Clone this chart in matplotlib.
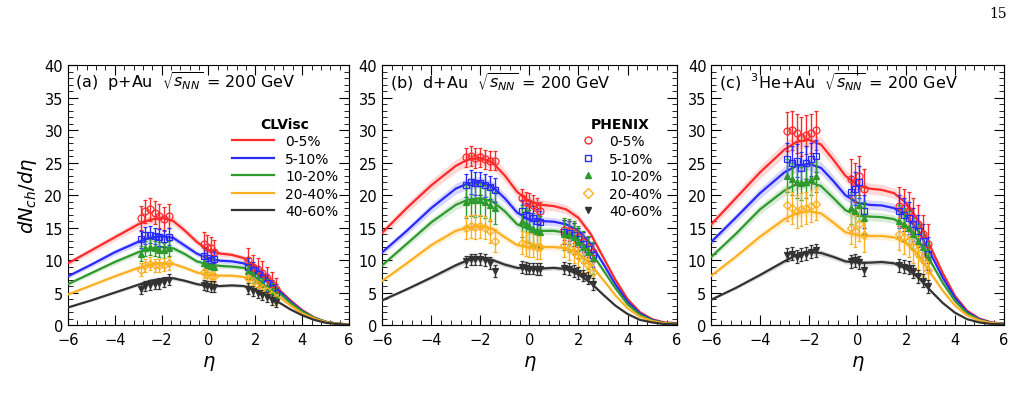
import numpy as np
import matplotlib
matplotlib.use("Agg")
import matplotlib.pyplot as plt
from matplotlib.ticker import MultipleLocator
from matplotlib.lines import Line2D

labels = ["0-5%", "5-10%", "10-20%", "20-40%", "40-60%"]
colors = ["#ff2a2a", "#2a2aff", "#2e9a2e", "#ffb020", "#333333"]
markers = ["o", "s", "^", "D", "v"]
mfill = [False, False, True, False, True]

eta_nodes = [-6, -5, -4, -3, -2.5, -2, -1.5, -1, -0.5, 0, 0.5, 1, 1.5, 2, 2.5, 3, 3.5, 4, 4.5, 5, 5.5, 6]

curves_a = [
    [9.5, 11.5, 13.5, 15.5, 16.2, 16.5, 16.0, 14.5, 12.8, 11.5, 11.0, 10.8, 10.3, 9.0, 7.5, 5.5, 3.8, 2.3, 1.2, 0.5, 0.2, 0.1],
    [7.5, 9.3, 11.2, 12.8, 13.4, 13.7, 13.4, 12.2, 11.0, 10.2, 9.9, 9.8, 9.5, 8.5, 7.1, 5.3, 3.6, 2.2, 1.1, 0.5, 0.2, 0.1],
    [6.3, 8.0, 9.7, 11.2, 11.8, 12.0, 11.8, 10.9, 9.8, 9.3, 9.1, 9.0, 8.8, 8.0, 6.7, 5.0, 3.4, 2.1, 1.1, 0.5, 0.2, 0.1],
    [4.7, 6.1, 7.5, 8.8, 9.3, 9.5, 9.4, 8.8, 8.1, 7.7, 7.6, 7.6, 7.4, 6.8, 5.8, 4.4, 3.0, 1.8, 1.0, 0.45, 0.2, 0.1],
    [2.7, 3.8, 5.0, 6.2, 6.8, 7.1, 7.2, 6.8, 6.3, 6.0, 6.0, 6.1, 6.0, 5.5, 4.6, 3.5, 2.4, 1.5, 0.8, 0.35, 0.15, 0.05],
]
curves_b = [
    [14.2, 18, 21.5, 24.5, 25.5, 25.7, 25.0, 23.0, 20.5, 19.0, 18.5, 18.3, 17.8, 16.5, 14.0, 10.5, 7.0, 4.0, 2.0, 0.9, 0.4, 0.3],
    [11.2, 14.5, 18.0, 21.0, 21.8, 22.0, 21.3, 19.5, 17.3, 16.2, 16.0, 15.9, 15.5, 14.5, 12.5, 9.5, 6.3, 3.6, 1.8, 0.8, 0.3, 0.2],
    [9.2, 12.5, 15.8, 18.5, 19.3, 19.5, 19.0, 17.5, 15.5, 14.7, 14.5, 14.5, 14.2, 13.2, 11.3, 8.5, 5.7, 3.2, 1.6, 0.7, 0.3, 0.2],
    [6.8, 9.5, 12.3, 14.5, 15.0, 15.2, 14.8, 13.5, 12.3, 12.0, 12.0, 12.0, 11.8, 11.0, 9.3, 7.0, 4.6, 2.6, 1.3, 0.6, 0.25, 0.15],
    [3.8, 5.5, 7.3, 9.2, 10.0, 10.2, 10.0, 9.3, 8.8, 8.7, 8.7, 8.8, 8.6, 7.8, 6.5, 4.7, 3.0, 1.7, 0.8, 0.4, 0.15, 0.1],
]
curves_c = [
    [15.5, 19.5, 23.5, 27.0, 28.2, 28.5, 27.8, 25.5, 23.0, 21.5, 21.0, 20.8, 20.3, 18.8, 16.0, 12.0, 8.0, 4.5, 2.2, 1.0, 0.4, 0.2],
    [12.8, 16.5, 20.3, 23.5, 24.5, 24.8, 24.2, 22.2, 20.0, 18.8, 18.5, 18.4, 18.0, 16.8, 14.5, 11.0, 7.3, 4.2, 2.0, 0.9, 0.35, 0.2],
    [10.5, 14.0, 17.8, 20.7, 21.7, 22.0, 21.4, 19.6, 17.7, 16.8, 16.7, 16.6, 16.3, 15.2, 13.0, 9.8, 6.5, 3.7, 1.8, 0.8, 0.3, 0.2],
    [7.6, 10.5, 13.6, 16.3, 17.2, 17.5, 17.2, 15.8, 14.3, 13.8, 13.7, 13.7, 13.5, 12.6, 10.8, 8.0, 5.3, 3.0, 1.5, 0.7, 0.3, 0.15],
    [3.9, 5.7, 7.7, 9.8, 10.8, 11.2, 11.1, 10.5, 9.8, 9.6, 9.6, 9.7, 9.5, 8.7, 7.3, 5.3, 3.4, 1.9, 0.9, 0.4, 0.15, 0.1],
]

eta_a = [-2.9, -2.7, -2.5, -2.3, -2.1, -1.9, -1.7, -0.2, -0.05, 0.1, 0.25, 1.7, 1.9, 2.1, 2.3, 2.5, 2.7, 2.9]
data_a = [
    [16.5, 17.5, 17.8, 17.3, 16.8, 16.3, 16.8, 12.5, 12.0, 11.8, 11.3, 10.0, 9.0, 8.5, 8.0, 7.2, 6.3, 5.5],
    [13.2, 13.8, 13.9, 13.7, 13.5, 13.3, 13.6, 10.6, 10.3, 10.0, 10.2, 9.0, 8.4, 7.8, 7.2, 6.5, 5.7, 5.0],
    [11.0, 11.8, 12.0, 11.8, 11.6, 11.5, 11.8, 9.6, 9.3, 9.1, 9.0, 8.3, 7.7, 7.1, 6.5, 5.9, 5.2, 4.6],
    [8.5, 9.2, 9.4, 9.2, 9.2, 9.3, 9.5, 8.2, 7.8, 7.6, 7.6, 7.2, 6.7, 6.2, 5.7, 5.2, 4.6, 4.1],
    [5.5, 6.0, 6.2, 6.3, 6.4, 6.6, 7.0, 6.2, 6.0, 5.9, 5.9, 5.6, 5.2, 4.9, 4.6, 4.3, 3.9, 3.6],
]
err_a = [1.8, 1.3, 1.2, 1.0, 0.8]

eta_b = [-2.6, -2.4, -2.2, -2.0, -1.8, -1.6, -1.4, -0.3, -0.15, 0.0, 0.15, 0.3, 0.45, 1.4, 1.6, 1.8, 2.0, 2.2, 2.4, 2.6]
data_b = [
    [25.8, 26.0, 25.7, 25.8, 25.5, 25.3, 25.3, 19.5, 19.0, 18.8, 18.5, 18.0, 17.5, 14.6, 14.5, 14.2, 13.5, 12.8, 12.0, 11.2],
    [21.5, 22.0, 21.8, 21.8, 21.5, 21.2, 20.8, 17.5, 17.0, 16.8, 16.5, 16.0, 15.8, 14.3, 14.2, 13.9, 13.2, 12.5, 11.7, 10.8],
    [19.0, 19.3, 19.2, 19.3, 19.0, 18.5, 18.0, 16.0, 15.5, 15.2, 14.8, 14.5, 14.3, 14.0, 13.8, 13.5, 12.8, 12.0, 11.2, 10.3],
    [15.0, 15.2, 15.1, 15.2, 15.0, 14.5, 13.0, 12.7, 12.5, 12.3, 12.2, 12.0, 12.0, 12.3, 11.8, 11.3, 10.7, 10.0, 9.2, 8.2],
    [9.8, 10.1, 10.1, 10.2, 10.0, 9.5, 8.3, 8.9, 8.8, 8.7, 8.7, 8.6, 8.6, 8.8, 8.6, 8.3, 8.0, 7.6, 7.2, 6.3],
]
err_b = [1.5, 1.8, 2.5, 1.8, 0.9]

eta_c = [-2.9, -2.7, -2.5, -2.3, -2.1, -1.9, -1.7, -0.25, -0.1, 0.05, 0.25, 1.7, 1.9, 2.1, 2.3, 2.5, 2.7, 2.9]
data_c = [
    [29.8, 30.0, 29.5, 29.0, 29.3, 29.5, 30.0, 22.5, 22.0, 23.0, 21.0, 18.3, 18.0, 17.5, 16.5, 15.5, 14.0, 12.5],
    [25.5, 25.0, 25.3, 24.2, 25.0, 25.5, 26.0, 20.5, 21.0, 22.0, 17.5, 17.5, 17.0, 16.5, 15.5, 14.5, 13.0, 11.0],
    [23.0, 22.5, 22.0, 21.8, 22.0, 22.5, 23.0, 18.0, 17.5, 18.5, 16.5, 16.0, 15.5, 15.0, 14.0, 13.0, 12.0, 10.5],
    [18.5, 18.0, 17.5, 17.8, 18.0, 18.3, 18.7, 15.0, 14.5, 15.5, 13.8, 14.0, 13.5, 13.0, 12.0, 11.0, 10.0, 8.5],
    [10.8, 11.0, 10.5, 10.8, 11.0, 11.3, 11.5, 9.8, 10.0, 9.7, 8.5, 9.2, 9.0, 8.8, 8.3, 7.5, 6.8, 6.0],
]
err_c = [3.0, 2.5, 2.5, 2.5, 1.0]

titles = [r"(a)  p+Au  $\sqrt{s_{NN}}$ = 200 GeV",
          r"(b)  d+Au  $\sqrt{s_{NN}}$ = 200 GeV",
          r"(c)  $^{3}$He+Au  $\sqrt{s_{NN}}$ = 200 GeV"]

fig = plt.figure(figsize=(10.22, 4.06), dpi=100)
plt.rcParams['font.family'] = ['DejaVu Sans']
rects = [[0.0665, 0.197, 0.275, 0.640], [0.374, 0.197, 0.288, 0.640], [0.696, 0.197, 0.286, 0.640]]
panels = [(curves_a, eta_a, data_a, err_a), (curves_b, eta_b, data_b, err_b), (curves_c, eta_c, data_c, err_c)]

for p, (rect, (curves, eta, data, err)) in enumerate(zip(rects, panels)):
    ax = fig.add_axes(rect)
    for i in range(5):
        c = np.array(curves[i])
        ax.fill_between(eta_nodes, c * 0.96, c * 1.04, color=colors[i], alpha=0.18, lw=0)
        ax.plot(eta_nodes, c, color=colors[i], lw=1.6, zorder=3)
    for i in range(5):
        ax.errorbar(eta, data[i], yerr=err[i], fmt=markers[i], ms=5 if markers[i] != "D" else 4,
                    mfc=colors[i] if mfill[i] else "none", mec=colors[i], ecolor=colors[i],
                    elinewidth=1.0, capsize=1.5, mew=0.9, zorder=4)
    ax.set_xlim(-6, 6)
    ax.set_ylim(0, 40)
    ax.xaxis.set_major_locator(MultipleLocator(2))
    ax.xaxis.set_minor_locator(MultipleLocator(0.4))
    ax.yaxis.set_major_locator(MultipleLocator(5))
    ax.yaxis.set_minor_locator(MultipleLocator(1))
    ax.tick_params(which="both", direction="in", top=True, right=True, labelsize=10.5)
    ax.tick_params(which="major", length=7)
    ax.tick_params(which="minor", length=3.5)
    ax.tick_params(axis="x", pad=5)
    ax.set_xticks([-6, -4, -2, 0, 2, 4, 6])
    ax.set_xticklabels(["\u22126", "\u22124", "\u22122", "0", "2", "4", "6"])
    ax.set_xlabel(r"$\eta$", fontsize=14)
    ax.text(0.025, 0.915, titles[p], transform=ax.transAxes, fontsize=11.5)
    if p == 0:
        ax.set_ylabel(r"$dN_{ch}/d\eta$", fontsize=14)
        handles = [Line2D([], [], color=colors[i], lw=1.6) for i in range(5)]
        leg = ax.legend(handles, labels, title="CLVisc", loc="upper left", bbox_to_anchor=(0.54, 0.85),
                        frameon=False, fontsize=10, handlelength=3.0, labelspacing=0.25)
        leg.get_title().set_fontweight("bold")
    if p == 1:
        handles = [Line2D([], [], color=colors[i], marker=markers[i], ls="none",
                          mfc=colors[i] if mfill[i] else "none", ms=5) for i in range(5)]
        leg = ax.legend(handles, labels, title="PHENIX", loc="upper left", bbox_to_anchor=(0.62, 0.85),
                        frameon=False, fontsize=10, handlelength=1.5, labelspacing=0.25)
        leg.get_title().set_fontweight("bold")

fig.text(0.985, 0.955, "15", fontsize=10, ha="right", family="DejaVu Serif")
fig.savefig("out.png", dpi=100)
